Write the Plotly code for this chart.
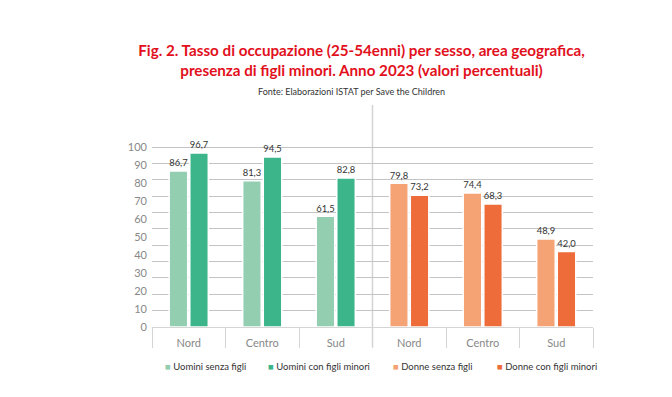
import plotly.graph_objects as go

areas = ["Nord", "Centro", "Sud"]
uomini_senza = [86.7, 81.3, 61.5]
uomini_con = [96.7, 94.5, 82.8]
donne_senza = [79.8, 74.4, 48.9]
donne_con = [73.2, 68.3, 42.0]
series_names = ["Uomini senza figli", "Uomini con figli minori", "Donne senza figli", "Donne con figli minori"]
y_ticks = list(range(0, 101, 10))

colors = ["#93CEB1", "#3CB58A", "#F5A275", "#EE6B3A"]
FONT = "Lato"

x_men = [0, 1, 2]
x_women = [3, 4, 5]

fig = go.Figure()
specs = [
    (x_men, uomini_senza, "a"),
    (x_men, uomini_con, "b"),
    (x_women, donne_senza, "a"),
    (x_women, donne_con, "b"),
]
for (xs, ys, grp), name, col in zip(specs, series_names, colors):
    fig.add_trace(go.Bar(
        x=xs, y=ys, name=name, offsetgroup=grp,
        marker=dict(color=col, line=dict(color="white", width=1.5)),
        text=[f"{v:.1f}".replace(".", ",") for v in ys],
        textposition="outside", cliponaxis=False,
        textfont=dict(family=FONT, size=10.5, color="#333333"),
        showlegend=False, hoverinfo="skip",
    ))

# legend built as text
leg_x = [0.025, 0.2585, 0.542, 0.778]
for name, col, lx in zip(series_names, colors, leg_x):
    fig.add_annotation(
        xref="paper", yref="paper", x=lx, y=-0.202, xanchor="left", yanchor="middle",
        text=f"<span style='color:{col}'>■</span> {name}", showarrow=False,
        font=dict(family=FONT, size=9.5, color="#333333"),
    )

fig.add_annotation(
    xref="paper", yref="paper", x=0.4535, y=1.187, xanchor="center", yanchor="middle",
    text="Fonte: Elaborazioni ISTAT per Save the Children", showarrow=False,
    font=dict(family=FONT, size=9, color="#333333"),
)

# vertical divider between men and women
fig.add_shape(type="line", xref="x", yref="paper", x0=2.5, x1=2.5, y0=-0.101, y1=1.121,
              line=dict(color="#D3D3D3", width=1.5), layer="below")

fig.update_layout(
    width=672, height=397,
    margin=dict(l=152, r=79, t=129, b=70),
    paper_bgcolor="white", plot_bgcolor="white",
    separators=",.",
    barmode="group", bargap=0.44, bargroupgap=0.1,
    title=dict(
        text="Fig. 2. Tasso di occupazione (25-54enni) per sesso, area geografica,<br>presenza di figli minori. Anno 2023 (valori percentuali)",
        font=dict(family=FONT, size=15.2, color="#E2101C", weight="bold"),
        xref="container", x=0.538, xanchor="center",
        yref="container", y=0.859, yanchor="middle",
    ),
    xaxis=dict(
        range=[-0.5, 5.5],
        tickmode="array", tickvals=[0, 1, 2, 3, 4, 5], ticktext=areas + areas,
        ticks="", showgrid=False, zeroline=False,
        showline=True, linecolor="#D5D5D5", linewidth=1,
        tickfont=dict(family=FONT, size=11, color="#888888"),
        ticklabelstandoff=6,
        minor=dict(tickvals=[-0.5, 0.5, 1.5, 2.5, 3.5, 4.5, 5.5], ticks="outside",
                   ticklen=20, tickcolor="#D5D5D5", tickwidth=1, showgrid=False),
    ),
    yaxis=dict(
        range=[0, 110],
        tickmode="array", tickvals=y_ticks,
        showgrid=False, zeroline=False, ticks="",
        tickfont=dict(family=FONT, size=11, color="#888888"),
        ticklabelstandoff=4,
        minor=dict(tickvals=[100 * k / 11 for k in range(12)], showgrid=True,
                   gridcolor="#C4C4C4", gridwidth=1, ticks=""),
    ),
)

fig.write_html("out.html", post_script="document.body.style.margin='0';",
               config={"displayModeBar": False})
